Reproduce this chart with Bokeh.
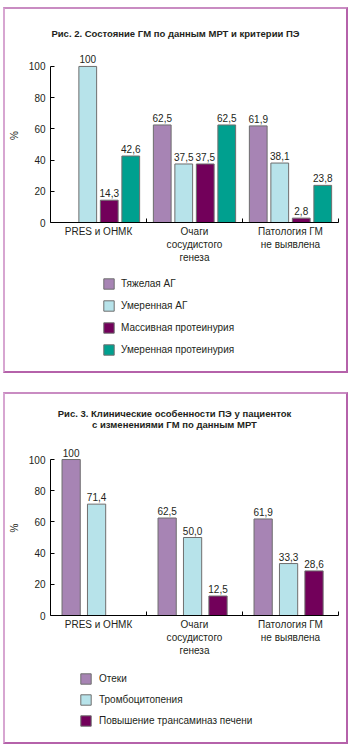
from bokeh.plotting import figure
from bokeh.models import (ColumnDataSource, Range1d, FactorRange, FixedTicker, LinearAxis,
                          Legend, LegendItem, Label)
from bokeh.transform import dodge
from bokeh.layouts import column
from bokeh.embed import file_html
from bokeh.resources import INLINE
from bokeh.core.properties import value

# ---------------- data ----------------
categories = ["PRES и ОНМК", "Очаги сосудистого генеза", "Патология ГМ не выявлена"]
category_labels = ["PRES и ОНМК", "Очаги\nсосудистого\nгенеза", "Патология ГМ\nне выявлена"]
y_ticks = [0, 20, 40, 60, 80, 100]
y_label = "%"

fig2_title = ["Рис. 2. Состояние ГМ по данным МРТ и критерии ПЭ"]
fig2_series = ["Тяжелая АГ", "Умеренная АГ", "Массивная протеинурия", "Умеренная протеинурия"]
severe_ag = [0, 62.5, 61.9]
moderate_ag = [100, 37.5, 38.1]
massive_proteinuria = [14.3, 37.5, 2.8]
moderate_proteinuria = [42.6, 62.5, 23.8]

fig3_title = ["Рис. 3. Клинические особенности ПЭ у пациенток",
              "с изменениями ГМ по данным МРТ"]
fig3_series = ["Отеки", "Тромбоцитопения", "Повышение трансаминаз печени"]
edema = [100, 62.5, 61.9]
thrombocytopenia = [71.4, 50.0, 33.3]
transaminases = [0, 12.5, 28.6]

# ---------------- style ----------------
FONT = "Liberation Sans"
TEXT = "#231f20"
C_PURPLE = "#a784b4"
C_LBLUE = "#b7e3ea"
C_MAGENTA = "#72005a"
C_TEAL = "#00a08f"
OUTLINE = "#6e6e6e"
BORDER = {"border-style": "solid", "border-width": "2px",
          "border-color": "#c98cc2 #b562aa #b562aa #d7a6d1"}
W = 341          # inner width of a boxed chart (2px border on each side)
FRAME_W = 288    # plotting-area width shared by every panel of a chart


def fmt(v):
    return "100" if v == 100 else f"{v:.1f}".replace(".", ",")


def blank_fig(height):
    # frame is aligned by the column with the bar chart frame (width FRAME_W)
    f = figure(width=W, height=height, x_range=Range1d(0, FRAME_W), y_range=Range1d(0, height),
               output_backend="svg", toolbar_location=None, title=None,
               x_axis_type=None, y_axis_type=None, min_border=0,
               min_border_left=45, min_border_right=W - 45 - FRAME_W,
               outline_line_color=None, border_fill_color="white",
               background_fill_color="white")
    f.xgrid.visible = False
    f.ygrid.visible = False
    return f


def title_fig(lines, height, x, ys):
    f = blank_fig(height)
    for line, y in zip(lines, ys):
        f.add_layout(Label(x=x, y=y, text=line, text_align="center",
                           text_baseline="middle", text_font=FONT,
                           text_font_style="bold", text_font_size="9.5px",
                           text_color=TEXT))
    return f


def main_fig(series, colors, offsets, bar_w, height, y_top):
    p = figure(width=W, height=height,
               x_range=FactorRange(*categories, range_padding=0, factor_padding=0),
               y_range=Range1d(0, y_top), output_backend="svg", toolbar_location=None,
               title=None, x_axis_type=None, y_axis_type=None,
               min_border_left=45, min_border_right=W - 45 - FRAME_W,
               min_border_top=3, min_border_bottom=45,
               outline_line_color=None, background_fill_color="white",
               border_fill_color="white")

    yaxis = LinearAxis(ticker=FixedTicker(ticks=y_ticks), bounds=(0, 100), axis_label=y_label,
                       major_tick_in=4, major_tick_out=0, minor_tick_line_color=None,
                       axis_line_color="black", major_tick_line_color="black",
                       major_label_standoff=5, axis_label_standoff=6,
                       major_label_text_font=FONT, major_label_text_font_size="10px",
                       major_label_text_color=TEXT,
                       axis_label_text_font=FONT, axis_label_text_font_size="10px",
                       axis_label_text_font_style="normal", axis_label_text_color=TEXT)
    p.add_layout(yaxis, "left")

    # group-boundary ticks (synthetic coordinates 1, 2, 3 of the factor range)
    tick_axis = LinearAxis(ticker=FixedTicker(ticks=[1, 2, 3]),
                           major_tick_in=4, major_tick_out=0, minor_tick_line_color=None,
                           axis_line_color="black", major_tick_line_color="black",
                           major_label_text_font_size="1px", major_label_text_alpha=0,
                           major_label_standoff=0)
    p.add_layout(tick_axis, "below")

    # category names at the group centres (synthetic coordinates 0.5, 1.5, 2.5)
    centers = [i + 0.5 for i in range(len(categories))]
    cat_axis = LinearAxis(ticker=FixedTicker(ticks=centers),
                          major_tick_in=0, major_tick_out=0, axis_line_color=None,
                          major_tick_line_color=None, minor_tick_line_color=None,
                          major_label_standoff=3,
                          major_label_overrides=dict(zip(centers, category_labels)),
                          major_label_text_font=FONT, major_label_text_font_size="10px",
                          major_label_text_color=TEXT)
    p.add_layout(cat_axis, "below")

    for vals, col, off in zip(series, colors, offsets):
        cats = [c for c, v in zip(categories, vals) if v > 0]
        tops = [v for v in vals if v > 0]
        src = ColumnDataSource(dict(cat=cats, val=tops, label=[fmt(v) for v in tops]))
        p.vbar(x=dodge("cat", off, range=p.x_range), top="val", width=bar_w,
               fill_color=col, line_color=OUTLINE, line_width=1, source=src)
        p.text(x=dodge("cat", off, range=p.x_range), y="val", text="label", source=src,
               text_align="center", text_baseline="bottom", y_offset=-3,
               text_font=value(FONT), text_font_size="10px", text_color=TEXT)
    return p


def legend_fig(names, series, colors, height, loc, spacing, standoff):
    f = blank_fig(height)
    items = []
    for name, vals, col in zip(names, series, colors):
        # the series itself, hidden here: it only supplies the legend swatch
        r = f.vbar(x=list(range(len(vals))), top=vals, width=0.5, fill_color=col,
                   line_color=OUTLINE, line_width=1, visible=False)
        items.append(LegendItem(label=name, renderers=[r]))
    f.add_layout(Legend(items=items, location=loc, orientation="vertical",
                        glyph_width=13, glyph_height=13, label_height=13,
                        label_standoff=standoff, spacing=spacing,
                        padding=0, margin=0, border_line_color=None,
                        background_fill_alpha=0, click_policy="none",
                        label_text_font=FONT, label_text_font_size="10px",
                        label_text_color=TEXT), "center")
    return f


series2 = [severe_ag, moderate_ag, massive_proteinuria, moderate_proteinuria]
colors2 = [C_PURPLE, C_LBLUE, C_MAGENTA, C_TEAL]
t1 = title_fig(fig2_title, 36, 125, [12])
m1 = main_fig(series2, colors2, [-0.336, -0.112, 0.112, 0.336], 0.185, height=222, y_top=111.5)
l1 = legend_fig(fig2_series, series2, colors2, 104, (52, 15.5), 9, 6)
chart2 = column(t1, m1, l1, spacing=0, margin=(7, 0, 0, 3), styles=BORDER)

series3 = [edema, thrombocytopenia, transaminases]
colors3 = [C_PURPLE, C_LBLUE, C_MAGENTA]
t2 = title_fig(fig3_title, 43, 124, [24, 13])
m2 = main_fig(series3, colors3, [-0.285, -0.02, 0.245], 0.19, height=223, y_top=112.2)
l2 = legend_fig(fig3_series, series3, colors3, 82, (29, 15.5), 8, 7)
chart3 = column(t2, m2, l2, spacing=0, margin=(19, 0, 0, 3), styles=BORDER)

layout = column(chart2, chart3, spacing=0)
open("out.html", "w").write(file_html(layout, INLINE))
